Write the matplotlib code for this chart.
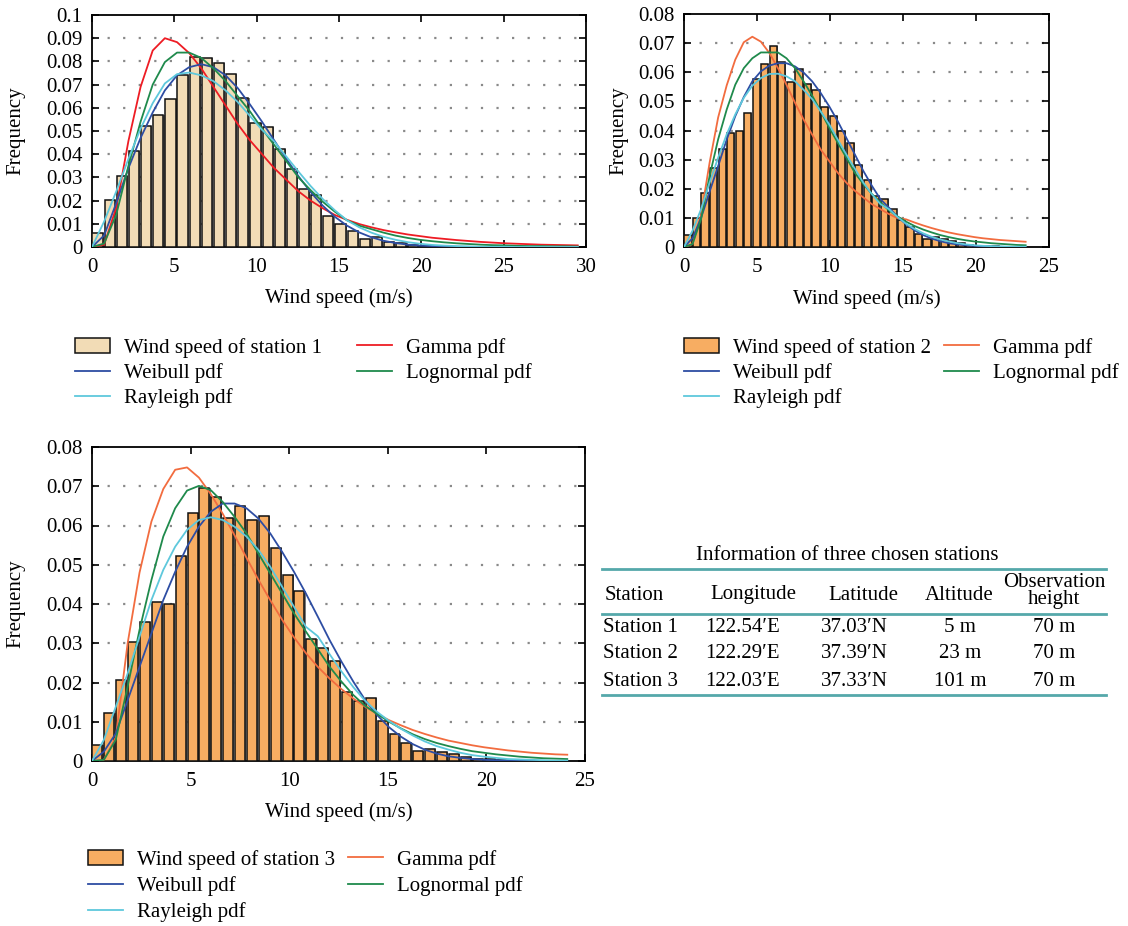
import numpy as np
import matplotlib
matplotlib.use("Agg")
import matplotlib.pyplot as plt
from matplotlib.lines import Line2D

plt.rcParams['font.family'] = ['Liberation Serif', 'DejaVu Serif']
plt.rcParams['font.size'] = 15

W, H = 1128, 926

# ---------------- data ----------------
# 40 bins per station, bin edges run from 0 to the max wind speed
max_speed_1 = 29.5
max_speed_2 = 23.4
max_speed_3 = 24.1

freq_1 = [0.0061, 0.0201, 0.0306, 0.0412, 0.0522, 0.0568, 0.0637, 0.0741, 0.0818, 0.0814,
          0.0794, 0.0747, 0.0642, 0.0533, 0.0516, 0.0422, 0.0336, 0.0252, 0.0222, 0.0134,
          0.0097, 0.0067, 0.0036, 0.0041, 0.0020, 0.0017, 0.0010, 0.0004, 0.0003, 0.0002,
          0.0001, 0.0001, 0, 0, 0, 0, 0, 0, 0, 0]
gamma_1 = [0, 0.001, 0.017, 0.0457, 0.069, 0.0847, 0.090, 0.0883, 0.0836, 0.077,
           0.069, 0.061, 0.053, 0.046, 0.040, 0.034, 0.029, 0.024, 0.020, 0.0167,
           0.0138, 0.0117, 0.0099, 0.0085, 0.0073, 0.0063, 0.0054, 0.0047, 0.0040, 0.0035,
           0.0030, 0.0026, 0.0022, 0.0019, 0.0016, 0.0014, 0.0012, 0.0010, 0.0009, 0.0008, 0.0007]
weibull_1 = [0, 0.005, 0.019, 0.034, 0.047, 0.058, 0.0675, 0.074, 0.0775, 0.0788,
             0.0775, 0.074, 0.0685, 0.0615, 0.054, 0.046, 0.038, 0.0305, 0.0237, 0.0178,
             0.013, 0.0092, 0.0063, 0.0042, 0.0027, 0.0017, 0.0010, 0.0006, 0.0004, 0.0002,
             0.0001, 0.0001, 0, 0, 0, 0, 0, 0, 0, 0, 0]
lognormal_1 = [0, 0.0015, 0.014, 0.035, 0.054, 0.070, 0.0797, 0.0838, 0.0838, 0.0815,
               0.077, 0.0715, 0.065, 0.0585, 0.051, 0.044, 0.037, 0.030, 0.0245, 0.0195,
               0.0152, 0.0115, 0.0092, 0.0077, 0.0062, 0.0049, 0.0039, 0.0031, 0.0025, 0.0020,
               0.0016, 0.0013, 0.0010, 0.0008, 0.0007, 0.0005, 0.0004, 0.0004, 0.0003, 0.0003, 0.0002]
rayleigh_1 = [0, 0.011, 0.024, 0.038, 0.051, 0.062, 0.0705, 0.0745, 0.0752, 0.074,
              0.0715, 0.0675, 0.0625, 0.0565, 0.0505, 0.0455, 0.039, 0.0325, 0.0263, 0.0207,
              0.0158, 0.0115, 0.0085, 0.0062, 0.0044, 0.0031, 0.0021, 0.0014, 0.0009, 0.0006,
              0.0004, 0.0002, 0.0001, 0.0001, 0.0001, 0, 0, 0, 0, 0, 0]

freq_2 = [0.0042, 0.0099, 0.0184, 0.0270, 0.0337, 0.0392, 0.0399, 0.0461, 0.0577, 0.0628,
          0.0691, 0.0636, 0.0567, 0.0611, 0.0559, 0.0540, 0.0482, 0.0450, 0.0397, 0.0356,
          0.0280, 0.0230, 0.0174, 0.0165, 0.0129, 0.0093, 0.0068, 0.0046, 0.0026, 0.0035,
          0.0026, 0.0019, 0.0014, 0.0008, 0.0005, 0.0003, 0.0002, 0.0001, 0.0001, 0.0001]
gamma_2 = [0, 0.001, 0.011, 0.029, 0.0445, 0.0555, 0.0643, 0.0703, 0.0722, 0.0705,
           0.0666, 0.0614, 0.0557, 0.0495, 0.0438, 0.0386, 0.0335, 0.0295, 0.0255, 0.0221,
           0.0193, 0.017, 0.0147, 0.013, 0.0113, 0.0099, 0.0095, 0.0084, 0.0074, 0.0065,
           0.0057, 0.0050, 0.0044, 0.0039, 0.0034, 0.0030, 0.0027, 0.0024, 0.0022, 0.0020, 0.0018]
weibull_2 = [0, 0.003, 0.010, 0.019, 0.0278, 0.0369, 0.0449, 0.0515, 0.0569, 0.0603,
             0.0623, 0.0631, 0.0631, 0.062, 0.0599, 0.0569, 0.0529, 0.0483, 0.0432, 0.0375,
             0.0318, 0.0261, 0.021, 0.0164, 0.0135, 0.0104, 0.0078, 0.0057, 0.0041, 0.0029,
             0.0020, 0.0013, 0.0009, 0.0006, 0.0004, 0.0002, 0.0001, 0.0001, 0, 0, 0]
lognormal_2 = [0, 0.001, 0.0096, 0.0244, 0.037, 0.0472, 0.0557, 0.0614, 0.0648, 0.0668,
               0.0668, 0.0668, 0.0648, 0.0614, 0.0569, 0.052, 0.0466, 0.041, 0.0358, 0.0307,
               0.0255, 0.0216, 0.0182, 0.0153, 0.0126, 0.0105, 0.0087, 0.0072, 0.0060, 0.0050,
               0.0041, 0.0034, 0.0028, 0.0023, 0.0019, 0.0016, 0.0013, 0.0011, 0.0009, 0.0007, 0.0006]
rayleigh_2 = [0, 0.0056, 0.013, 0.0221, 0.0307, 0.0387, 0.0455, 0.0512, 0.0554, 0.058,
              0.0594, 0.0595, 0.0586, 0.0569, 0.054, 0.0508, 0.0466, 0.0421, 0.0369, 0.0318,
              0.0269, 0.0221, 0.0181, 0.0147, 0.0130, 0.0103, 0.0080, 0.0062, 0.0047, 0.0035,
              0.0026, 0.0019, 0.0013, 0.0009, 0.0006, 0.0004, 0.0003, 0.0002, 0.0001, 0.0001, 0.0001]

freq_3 = [0.0040, 0.0122, 0.0207, 0.0304, 0.0354, 0.0405, 0.0401, 0.0523, 0.0632, 0.0695,
          0.0673, 0.0620, 0.0650, 0.0614, 0.0624, 0.0542, 0.0474, 0.0433, 0.0312, 0.0289,
          0.0254, 0.0175, 0.0154, 0.0160, 0.0102, 0.0068, 0.0045, 0.0025, 0.0031, 0.0024,
          0.0018, 0.0010, 0.0006, 0.0004, 0.0003, 0.0002, 0.0001, 0.0001, 0.0001, 0.0001]
gamma_3 = [0, 0.0003, 0.006, 0.030, 0.048, 0.061, 0.0693, 0.0742, 0.0748, 0.0722,
           0.068, 0.063, 0.0575, 0.0518, 0.0462, 0.041, 0.036, 0.0315, 0.0275, 0.024,
           0.021, 0.0183, 0.0159, 0.0138, 0.012, 0.0104, 0.0091, 0.0079, 0.0069, 0.006,
           0.0052, 0.0046, 0.004, 0.0035, 0.0031, 0.0027, 0.0024, 0.0021, 0.0019, 0.0017, 0.0016]
weibull_3 = [0, 0.0024, 0.007, 0.0155, 0.024, 0.0325, 0.041, 0.0482, 0.0546, 0.0597,
             0.0635, 0.0656, 0.0656, 0.0644, 0.0618, 0.058, 0.0533, 0.0482, 0.0427, 0.0368,
             0.0308, 0.0253, 0.0202, 0.0155, 0.0117, 0.0086, 0.0062, 0.0043, 0.0029, 0.0019,
             0.0012, 0.0008, 0.0005, 0.0003, 0.0002, 0.0001, 0.0001, 0, 0, 0, 0]
lognormal_3 = [0, 0.0003, 0.0054, 0.019, 0.0334, 0.0461, 0.0572, 0.0644, 0.0689, 0.0701,
               0.069, 0.066, 0.0622, 0.058, 0.0529, 0.0478, 0.0427, 0.0376, 0.033, 0.0285,
               0.024, 0.0202, 0.0168, 0.0140, 0.0120, 0.0100, 0.0083, 0.0068, 0.0056, 0.0046,
               0.0038, 0.0031, 0.0025, 0.0021, 0.0017, 0.0014, 0.0011, 0.0009, 0.0007, 0.0006, 0.0005]
rayleigh_3 = [0, 0.0054, 0.0138, 0.0223, 0.0317, 0.041, 0.0487, 0.0546, 0.0589, 0.0614,
              0.0621, 0.0614, 0.0597, 0.0572, 0.0538, 0.0495, 0.0444, 0.0393, 0.0342, 0.0318,
              0.0272, 0.0228, 0.0188, 0.0153, 0.0125, 0.0102, 0.0082, 0.0065, 0.0050, 0.0038,
              0.0029, 0.0021, 0.0015, 0.0011, 0.0008, 0.0005, 0.0004, 0.0003, 0.0002, 0.0001, 0.0001]

# table
tbl_header = ["Station", "Longitude", "Latitude", "Altitude", "Observation\nheight"]
tbl_station = ["Station 1", "Station 2", "Station 3"]
tbl_lon = ["122.54\u2032E", "122.29\u2032E", "122.03\u2032E"]
tbl_lat = ["37.03\u2032N", "37.39\u2032N", "37.33\u2032N"]
tbl_alt = ["5 m", "23 m", "101 m"]
tbl_obs = ["70 m", "70 m", "70 m"]

# ---------------- styles ----------------
C_WEIBULL = "#2d4da3"
C_LOGN = "#1f8a4c"
C_RAYL = "#5ec8dc"
TEAL = "#55a8aa"


def fx(px):
    return px / W


def fy(py):
    return 1 - py / H


def draw_panel(rect, max_speed, freq, gamma, weibull, lognorm, rayl,
               bar_color, gamma_color, xmax, ymax, xlab_y, ylab_x):
    ax = fig.add_axes(rect)
    edges = np.linspace(0, max_speed, len(freq) + 1)
    w = edges[1] - edges[0]
    # grey drop shadow behind each bar
    ax.bar(edges[:-1] + 0.14 * w, freq, width=0.84 * w, align="edge",
           color="#7a7a7a", linewidth=0, zorder=2)
    bars = ax.bar(edges[:-1] + 0.04 * w, freq, width=0.84 * w, align="edge",
                  facecolor=bar_color, edgecolor="#111111", linewidth=1.1, zorder=3)
    lw = 1.3
    l_g, = ax.plot(edges, gamma, color=gamma_color, lw=lw, zorder=4)
    l_w, = ax.plot(edges, weibull, color=C_WEIBULL, lw=lw, zorder=4)
    l_l, = ax.plot(edges, lognorm, color=C_LOGN, lw=lw, zorder=4)
    l_r, = ax.plot(edges, rayl, color=C_RAYL, lw=lw, zorder=4)

    ax.set_xlim(0, xmax)
    ax.set_ylim(0, ymax)
    ax.set_xticks(np.arange(0, xmax + 0.1, 5))
    yt = np.arange(0, ymax + 1e-9, 0.01)
    ax.set_yticks(yt)
    ax.set_yticklabels(["0" if v == 0 else "%g" % round(v, 2) for v in yt])
    for v in yt[1:-1]:
        ax.axhline(v, color="#8a8a8a", lw=1.6, ls=(0, (1, 6)), zorder=1)
    ax.tick_params(direction="in", top=True, right=True, length=5, width=1.2,
                   labelsize=15)
    ax.tick_params(axis="x", pad=8)
    ax.tick_params(axis="y", pad=7)
    for s in ax.spines.values():
        s.set_linewidth(1.3)
    ax.set_xlabel("Wind speed (m/s)", fontsize=15)
    ax.set_ylabel("Frequency", fontsize=15)
    ax.xaxis.set_label_coords(0.5, xlab_y)
    ax.yaxis.set_label_coords(ylab_x, 0.5)
    return ax, [bars, l_w, l_r, l_g, l_l]


fig = plt.figure(figsize=(W / 100, H / 100), dpi=100)

ax1, h1 = draw_panel([fx(92), fy(247), fx(586) - fx(92), fy(15) - fy(247)],
                     max_speed_1, freq_1, gamma_1, weibull_1, lognormal_1, rayleigh_1,
                     "#f2dcb6", "#ee1c24", 30, 0.1, -0.18, -0.135)
ax2, h2 = draw_panel([fx(684), fy(247), fx(1049) - fx(684), fy(14) - fy(247)],
                     max_speed_2, freq_2, gamma_2, weibull_2, lognormal_2, rayleigh_2,
                     "#f7ad62", "#f26c3f", 25, 0.08, -0.18, -0.152)
ax3, h3 = draw_panel([fx(92), fy(761), fx(585) - fx(92), fy(447) - fy(761)],
                     max_speed_3, freq_3, gamma_3, weibull_3, lognormal_3, rayleigh_3,
                     "#f7ad62", "#f26c3f", 25, 0.08, -0.13, -0.135)

names = ["Weibull pdf", "Rayleigh pdf", "Gamma pdf", "Lognormal pdf"]
for handles, st, pos, colsp, lsp in [(h1, 1, (75, 338), 1.7, 0.25),
                                     (h2, 2, (684, 338), 0.65, 0.25),
                                     (h3, 3, (88, 850), 0.65, 0.3)]:
    labels = ["Wind speed of station %d" % st] + names
    fig.legend(handles, labels, loc="upper left", bbox_to_anchor=(fx(pos[0]), fy(pos[1])),
               ncol=2, frameon=False, fontsize=15, handlelength=1.68, handleheight=0.75,
               handletextpad=0.65, labelspacing=lsp, columnspacing=colsp, borderpad=0,
               borderaxespad=0)

# ---------------- table ----------------
fig.text(fx(847), fy(555), "Information of three chosen stations", ha="center",
         va="center", fontsize=15)
for py in [569, 614, 695]:
    fig.add_artist(Line2D([fx(602), fx(1106)], [fy(py), fy(py)], color=TEAL, lw=2))

fig.text(fx(605), fy(595), tbl_header[0], ha="left", va="center", fontsize=15)
fig.text(fx(753), fy(595), tbl_header[1], ha="center", va="center", fontsize=15)
fig.text(fx(863), fy(595), tbl_header[2], ha="center", va="center", fontsize=15)
fig.text(fx(959), fy(595), tbl_header[3], ha="center", va="center", fontsize=15)
fig.text(fx(1054), fy(591), tbl_header[4], ha="center", va="center", fontsize=15,
         linespacing=0.9)

row_y = [628, 654, 681]
for i, py in enumerate(row_y):
    fig.text(fx(603), fy(py), tbl_station[i], ha="left", va="center", fontsize=15)
    fig.text(fx(705), fy(py), tbl_lon[i], ha="left", va="center", fontsize=15)
    fig.text(fx(821), fy(py), tbl_lat[i], ha="left", va="center", fontsize=15)
    fig.text(fx(960), fy(py), tbl_alt[i], ha="center", va="center", fontsize=15)
    fig.text(fx(1054), fy(py), tbl_obs[i], ha="center", va="center", fontsize=15)

fig.savefig("out.png", dpi=100)
